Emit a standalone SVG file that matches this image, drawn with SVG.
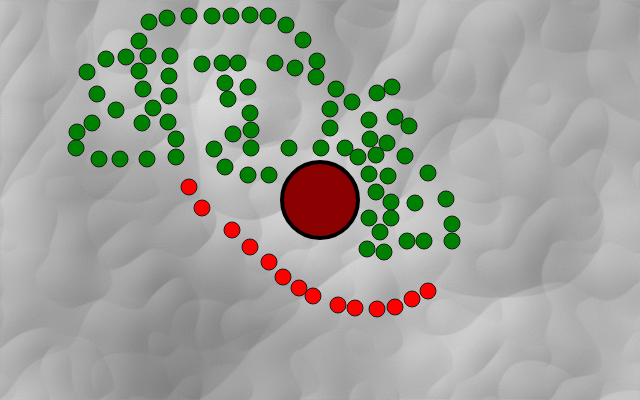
<svg xmlns="http://www.w3.org/2000/svg" width="640" height="400" viewBox="0 0 640 400">
<defs>
<filter id="paper" x="0" y="0" width="640" height="400" filterUnits="userSpaceOnUse" color-interpolation-filters="sRGB">
<feTurbulence type="turbulence" baseFrequency="0.005" numOctaves="3" seed="11" result="n"/>
<feDiffuseLighting in="n" surfaceScale="9" diffuseConstant="1" lighting-color="#ffffff" result="l">
<feDistantLight azimuth="225" elevation="50"/>
</feDiffuseLighting>
<feTurbulence type="fractalNoise" baseFrequency="0.004" numOctaves="2" seed="3" result="t"/>
<feColorMatrix in="t" type="matrix" values="0 0 0 0 0  0 0 0 0 0  0 0 0 0 0  0.5 0 0 0 -0.15" result="shade"/>
<feColorMatrix in="l" type="matrix" values="0.6 0 0 0 0.32  0.6 0 0 0 0.32  0.6 0 0 0 0.32  0 0 0 0 1" result="lit"/>
<feComposite in="shade" in2="lit" operator="over"/>
</filter>
<style>
.g{fill:#008000;stroke:#1a1a1a;stroke-width:1}
.r{fill:#ff0000;stroke:#1a1a1a;stroke-width:1}
</style>
</defs>
<rect id="background" x="0" y="0" width="640" height="400" fill="#cccccc" filter="url(#paper)"/>
<g id="green-dots">
<circle class="g" cx="149" cy="22" r="8"/><circle class="g" cx="167" cy="18" r="8"/><circle class="g" cx="189" cy="16" r="8"/><circle class="g" cx="212" cy="16" r="8"/><circle class="g" cx="231" cy="16" r="8"/><circle class="g" cx="250" cy="15" r="8"/><circle class="g" cx="268" cy="16" r="8"/><circle class="g" cx="286" cy="25" r="8"/><circle class="g" cx="303" cy="40" r="8"/><circle class="g" cx="139" cy="41" r="8"/>
<circle class="g" cx="106" cy="59" r="8"/><circle class="g" cx="126" cy="57" r="8"/><circle class="g" cx="148" cy="56" r="8"/><circle class="g" cx="170" cy="56" r="8"/><circle class="g" cx="87" cy="72" r="8"/><circle class="g" cx="139" cy="71" r="8"/><circle class="g" cx="169" cy="76" r="8"/><circle class="g" cx="143" cy="89" r="8"/><circle class="g" cx="97" cy="94" r="8"/><circle class="g" cx="169" cy="96" r="8"/>
<circle class="g" cx="202" cy="64" r="8"/><circle class="g" cx="222" cy="63" r="8"/><circle class="g" cx="238" cy="63" r="8"/><circle class="g" cx="275" cy="63" r="8"/><circle class="g" cx="295" cy="68" r="8"/><circle class="g" cx="317" cy="61" r="8"/><circle class="g" cx="316" cy="77" r="8"/><circle class="g" cx="225" cy="83" r="8"/><circle class="g" cx="248" cy="87" r="8"/><circle class="g" cx="228" cy="99" r="8"/>
<circle class="g" cx="336" cy="89" r="8"/><circle class="g" cx="352" cy="102" r="8"/><circle class="g" cx="116" cy="110" r="8"/><circle class="g" cx="153" cy="108" r="8"/><circle class="g" cx="92" cy="123" r="8"/><circle class="g" cx="142" cy="123" r="8"/><circle class="g" cx="168" cy="122" r="8"/><circle class="g" cx="77" cy="132" r="8"/><circle class="g" cx="176" cy="139" r="8"/><circle class="g" cx="233" cy="134" r="8"/>
<circle class="g" cx="251" cy="130" r="8"/><circle class="g" cx="250" cy="113" r="8"/><circle class="g" cx="330" cy="109" r="8"/><circle class="g" cx="330" cy="128" r="8"/><circle class="g" cx="76" cy="148" r="8"/><circle class="g" cx="214" cy="149" r="8"/><circle class="g" cx="99" cy="159" r="8"/><circle class="g" cx="120" cy="159" r="8"/><circle class="g" cx="147" cy="159" r="8"/><circle class="g" cx="176" cy="157" r="8"/>
<circle class="g" cx="251" cy="148" r="8"/><circle class="g" cx="289" cy="148" r="8"/><circle class="g" cx="321" cy="148" r="8"/><circle class="g" cx="345" cy="148" r="8"/><circle class="g" cx="358" cy="157" r="8"/><circle class="g" cx="225" cy="167" r="8"/><circle class="g" cx="248" cy="175" r="8"/><circle class="g" cx="269" cy="175" r="8"/><circle class="g" cx="377" cy="93" r="8"/><circle class="g" cx="392" cy="87" r="8"/>
<circle class="g" cx="369" cy="120" r="8"/><circle class="g" cx="395" cy="117" r="8"/><circle class="g" cx="409" cy="126" r="8"/><circle class="g" cx="370" cy="139" r="8"/><circle class="g" cx="387" cy="143" r="8"/><circle class="g" cx="376" cy="155" r="8"/><circle class="g" cx="405" cy="156" r="8"/><circle class="g" cx="369" cy="174" r="8"/><circle class="g" cx="388" cy="176" r="8"/><circle class="g" cx="428" cy="173" r="8"/>
<circle class="g" cx="376" cy="192" r="8"/><circle class="g" cx="391" cy="202" r="8"/><circle class="g" cx="415" cy="203" r="8"/><circle class="g" cx="446" cy="199" r="8"/><circle class="g" cx="369" cy="218" r="8"/><circle class="g" cx="391" cy="218" r="8"/><circle class="g" cx="452" cy="224" r="8"/><circle class="g" cx="380" cy="232" r="8"/><circle class="g" cx="407" cy="241" r="8"/><circle class="g" cx="424" cy="241" r="8"/>
<circle class="g" cx="452" cy="241" r="8"/><circle class="g" cx="367" cy="249" r="8"/><circle class="g" cx="384" cy="252" r="8"/>
</g>
<g id="red-dots">
<circle class="r" cx="189" cy="187" r="8"/><circle class="r" cx="202" cy="208" r="8"/><circle class="r" cx="232" cy="230" r="8"/><circle class="r" cx="250" cy="247" r="8"/><circle class="r" cx="269" cy="262" r="8"/><circle class="r" cx="283" cy="277" r="8"/><circle class="r" cx="299" cy="288" r="8"/><circle class="r" cx="313" cy="296" r="8"/><circle class="r" cx="338" cy="305" r="8"/><circle class="r" cx="355" cy="308" r="8"/><circle class="r" cx="377" cy="309" r="8"/><circle class="r" cx="395" cy="307" r="8"/><circle class="r" cx="412" cy="299" r="8"/><circle class="r" cx="428" cy="291" r="8"/>
</g>
<g id="big-circle">
<circle cx="320" cy="200" r="38" fill="#8b0000" stroke="#000000" stroke-width="4"/>
</g>
</svg>
